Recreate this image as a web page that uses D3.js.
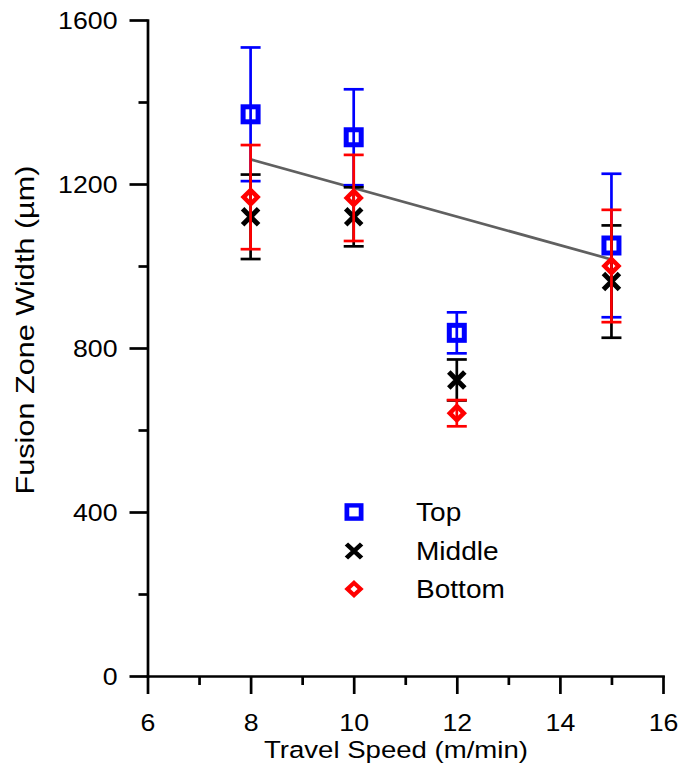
<!DOCTYPE html>
<html>
<head>
<meta charset="utf-8">
<script src="https://cdn.jsdelivr.net/npm/d3@7/dist/d3.min.js"></script>
<style>
  html, body { margin: 0; padding: 0; background: #fff; }
  svg { display: block; }
  text { font-family: "Liberation Sans", Arial, Helvetica, sans-serif; fill: #000; }
</style>
</head>
<body>
<svg id="chart" width="679" height="767"></svg>
<script>
// Fusion zone width versus travel speed, measured at three depths
const speeds = [8, 10, 12, 15];
const seriesNames = ["Top", "Middle", "Bottom"];
const topWidth = [1370, 1314, 837, 1050];
const topErr = [163, 117, 50, 175];
const middleWidth = [1120, 1120, 722, 962];
const middleErr = [103, 72, 50, 137];
const bottomWidth = [1168, 1166, 641, 1000];
const bottomErr = [127, 105, 32, 137];
// linear trend drawn across the measured speed range
const trendSpeed = [8, 15];
const trendWidth = [1260, 1016];
const xTicks = [6, 8, 10, 12, 14, 16];
const xMinorTicks = [7, 9, 11, 13, 15];
const yTicks = [0, 400, 800, 1200, 1600];
const yMinorTicks = [200, 600, 1000, 1400];

const series = [
  { name: seriesNames[0], values: topWidth, errs: topErr, color: "#0000ff", shape: "square" },
  { name: seriesNames[1], values: middleWidth, errs: middleErr, color: "#000000", shape: "cross" },
  { name: seriesNames[2], values: bottomWidth, errs: bottomErr, color: "#ff0000", shape: "diamond" }
];

const svg = d3.select("#chart");
const plotLeft = 147.5, plotRight = 663, plotTop = 20, plotBottom = 676;
const x = d3.scaleLinear().domain([6, 16]).range([plotLeft, plotRight]);
const y = d3.scaleLinear().domain([0, 1600]).range([plotBottom, plotTop]);

const axisW = 2.7;
const fontSize = 24.5;
const stretch = 1.09;

// widen text along its own direction
function widen(sel, k) {
  sel.each(function () {
    const w = this.getComputedTextLength();
    d3.select(this).attr("textLength", w * k).attr("lengthAdjust", "spacingAndGlyphs");
  });
}

// minor ticks
const gx = svg.append("g").attr("transform", `translate(0,${plotBottom})`);
gx.call(d3.axisBottom(x).tickValues(xMinorTicks).tickSize(9).tickSizeOuter(0).tickFormat(""));
gx.call(g => g.select(".domain").remove());
gx.selectAll("line").attr("stroke-width", axisW);
const gy = svg.append("g").attr("transform", `translate(${plotLeft},0)`);
gy.call(d3.axisLeft(y).tickValues(yMinorTicks).tickSize(9).tickSizeOuter(0).tickFormat(""));
gy.call(g => g.select(".domain").remove());
gy.selectAll("line").attr("stroke-width", axisW);

// major axes
const xAxis = svg.append("g").attr("transform", `translate(0,${plotBottom})`)
  .call(d3.axisBottom(x).tickValues(xTicks).tickSize(18).tickSizeOuter(0).tickPadding(12).tickFormat(d3.format("d")));
const yAxis = svg.append("g").attr("transform", `translate(${plotLeft},0)`)
  .call(d3.axisLeft(y).tickValues(yTicks).tickSize(18).tickSizeOuter(0).tickPadding(12).tickFormat(d3.format("d")));

[xAxis, yAxis].forEach(a => {
  a.attr("font-family", null).attr("font-size", null);
  a.select(".domain").attr("stroke-width", axisW).attr("stroke-linecap", "square");
  a.selectAll(".tick line").attr("stroke-width", axisW);
  a.selectAll("text").attr("font-size", fontSize);
});
xAxis.selectAll("text").attr("y", 55).attr("dy", 0);
yAxis.selectAll("text").attr("dy", "0.35em");
widen(xAxis.selectAll("text"), stretch);
widen(yAxis.selectAll("text"), stretch);

// axis titles
const xTitle = svg.append("text")
  .attr("x", 396).attr("y", 758)
  .attr("text-anchor", "middle").attr("font-size", fontSize)
  .text("Travel Speed (m/min)");
widen(xTitle, 1.125);

const yTitle = svg.append("text")
  .attr("transform", "translate(34,330) rotate(-90)")
  .attr("text-anchor", "middle").attr("font-size", 25.5)
  .text("Fusion Zone Width (\u00b5m)");
widen(yTitle, 1.2);

// trend line
svg.append("line")
  .attr("x1", x(trendSpeed[0])).attr("y1", y(trendWidth[0]))
  .attr("x2", x(trendSpeed[1])).attr("y2", y(trendWidth[1]))
  .attr("stroke", "#606060").attr("stroke-width", 2.7);

function drawMarker(g, shape, color) {
  if (shape === "square") {
    g.append("rect").attr("x", -7.5).attr("y", -7.5).attr("width", 15).attr("height", 15)
      .attr("fill", "none").attr("stroke", color).attr("stroke-width", 5);
  } else if (shape === "diamond") {
    const r = 7;
    g.append("path").attr("d", `M0,${-r}L${r},0L0,${r}L${-r},0Z`)
      .attr("fill", "none").attr("stroke", color).attr("stroke-width", 4.5)
      .attr("stroke-linejoin", "miter");
  } else {
    const s = 8;
    g.append("path").attr("d", `M${-s},${-s}L${s},${s}M${-s},${s}L${s},${-s}`)
      .attr("fill", "none").attr("stroke", color).attr("stroke-width", 5);
  }
}

// error bars and markers
const capHalf = 10;
series.forEach(s => {
  const g = svg.append("g");
  speeds.forEach((sp, i) => {
    const cx = x(sp);
    const hi = y(s.values[i] + s.errs[i]);
    const lo = y(s.values[i] - s.errs[i]);
    const cy = y(s.values[i]);
    drawMarker(g.append("g").attr("transform", `translate(${cx},${cy})`), s.shape, s.color);
    g.append("line").attr("x1", cx).attr("x2", cx).attr("y1", hi).attr("y2", lo)
      .attr("stroke", s.color).attr("stroke-width", 2.7);
    [hi, lo].forEach(yy => {
      g.append("line").attr("x1", cx - capHalf).attr("x2", cx + capHalf).attr("y1", yy).attr("y2", yy)
        .attr("stroke", s.color).attr("stroke-width", 2.7);
    });
  });
});

// legend
const legendMarkX = 354, legendTextX = 416;
const legendRowY = [512, 551, 589];
series.forEach((s, i) => {
  const cy = legendRowY[i];
  drawMarker(svg.append("g").attr("transform", `translate(${legendMarkX},${cy}) scale(0.95,0.88)`), s.shape, s.color);
  const t = svg.append("text").attr("x", legendTextX).attr("y", cy + 9.3)
    .attr("font-size", 25.5).text(s.name);
  widen(t, 1.1);
});
</script>
</body>
</html>
